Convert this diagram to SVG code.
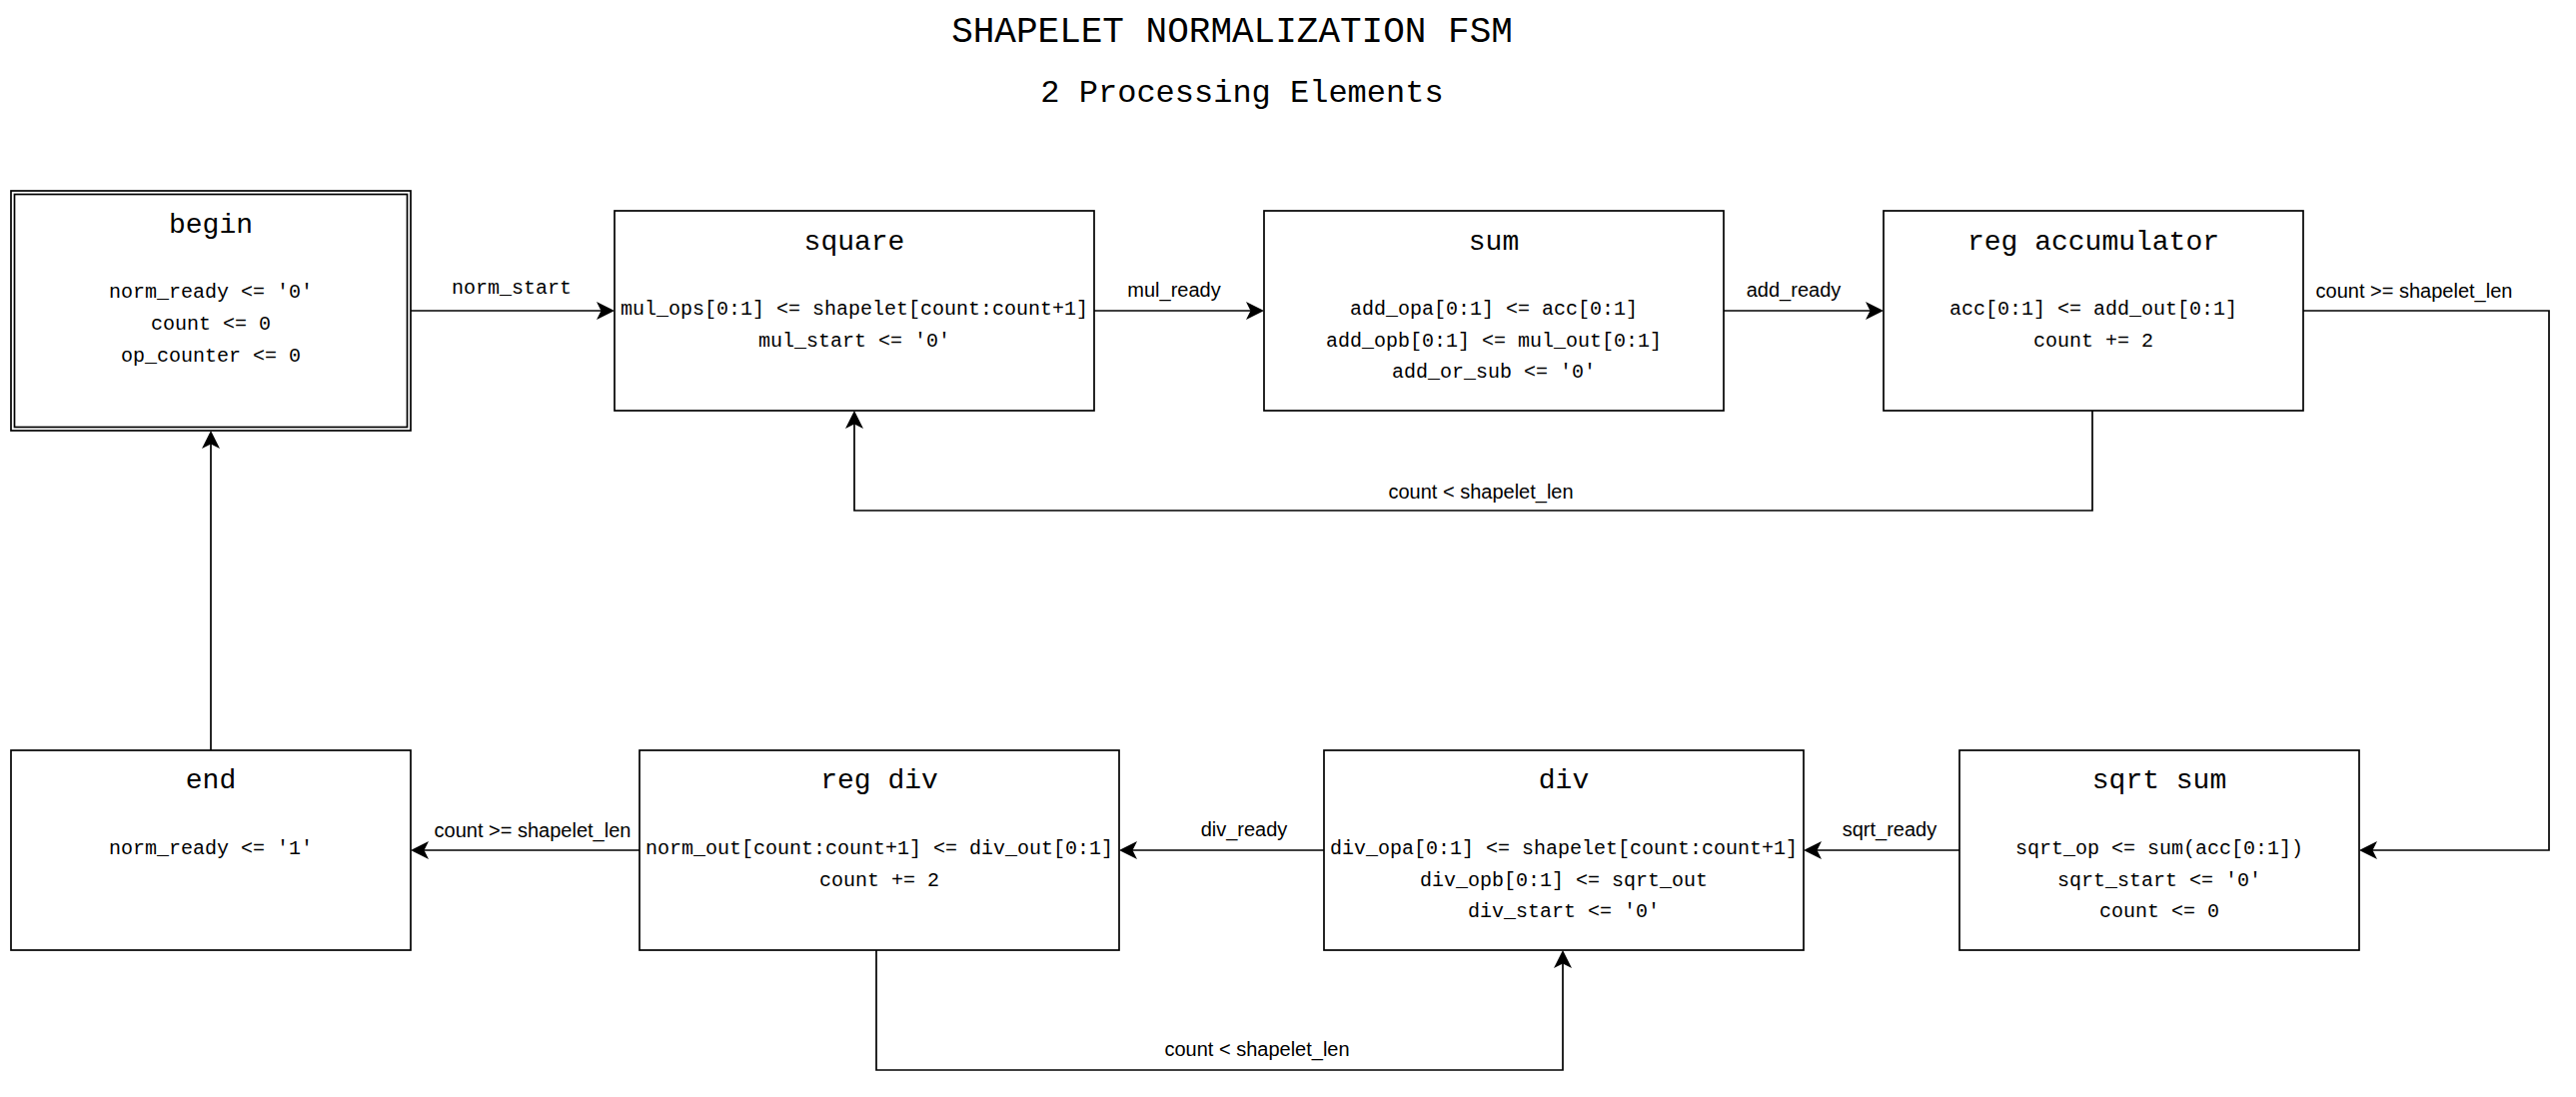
<svg xmlns="http://www.w3.org/2000/svg" width="2578" height="1098" viewBox="0 0 2578 1098">
<defs>
<style>
.box{fill:#fff;stroke:#000;stroke-width:1.7}
.edge{fill:none;stroke:#000;stroke-width:1.7}
.ttl{font-family:"Liberation Mono","DejaVu Sans Mono",monospace;font-size:28px;text-anchor:middle;fill:#000}
.bd{font-family:"Liberation Mono","DejaVu Sans Mono",monospace;font-size:20px;text-anchor:middle;fill:#000}
.lbl{font-family:"Liberation Sans",Arial,sans-serif;font-size:20px;text-anchor:middle;fill:#000}
.head{font-family:"Liberation Mono","DejaVu Sans Mono",monospace;text-anchor:middle;fill:#000}
</style>
<marker id="arr" viewBox="0 0 20 20" markerWidth="20" markerHeight="20" refX="16" refY="10" orient="auto" markerUnits="userSpaceOnUse">
<path d="M2,1 L20,10 L2,19 L6.5,10 Z" fill="#000"/>
</marker>
</defs>
<rect width="2578" height="1098" fill="#fff"/>
<g id="title">
<text class="head" x="1233" y="42" font-size="36">SHAPELET NORMALIZATION FSM</text>
<text class="head" x="1243" y="102" font-size="32">2 Processing Elements</text>
</g>
<g id="connectors">
<line class="edge" x1="411" y1="311" x2="611" y2="311" marker-end="url(#arr)"/>
<text class="bd" x="512" y="294">norm_start</text>
<line class="edge" x1="1095" y1="311" x2="1261" y2="311" marker-end="url(#arr)"/>
<text class="lbl" x="1175" y="297">mul_ready</text>
<line class="edge" x1="1725" y1="311" x2="1881" y2="311" marker-end="url(#arr)"/>
<text class="lbl" x="1795" y="297">add_ready</text>
<polyline class="edge" points="2305,311 2551,311 2551,851 2365,851" marker-end="url(#arr)"/>
<text class="lbl" x="2416" y="298">count &gt;= shapelet_len</text>
<polyline class="edge" points="2094,411 2094,511 855,511 855,415" marker-end="url(#arr)"/>
<text class="lbl" x="1482" y="499">count &lt; shapelet_len</text>
<line class="edge" x1="1961" y1="851" x2="1809" y2="851" marker-end="url(#arr)"/>
<text class="lbl" x="1891" y="837">sqrt_ready</text>
<line class="edge" x1="1325" y1="851" x2="1124" y2="851" marker-end="url(#arr)"/>
<text class="lbl" x="1245" y="837">div_ready</text>
<line class="edge" x1="640" y1="851" x2="415" y2="851" marker-end="url(#arr)"/>
<text class="lbl" x="533" y="838">count &gt;= shapelet_len</text>
<polyline class="edge" points="877,951 877,1071 1564,1071 1564,955" marker-end="url(#arr)"/>
<text class="lbl" x="1258" y="1057">count &lt; shapelet_len</text>
<line class="edge" x1="211" y1="751" x2="211" y2="435" marker-end="url(#arr)"/>
</g>
<g id="begin">
<rect class="box" x="11" y="191" width="400" height="240"/>
<rect class="box" x="14.5" y="194.5" width="393" height="233"/>
<text class="ttl" x="211" y="233">begin</text>
<text class="bd" x="211" y="298">norm_ready &lt;= '0'</text>
<text class="bd" x="211" y="330">count &lt;= 0</text>
<text class="bd" x="211" y="362">op_counter &lt;= 0</text>
</g>
<g id="square">
<rect class="box" x="615" y="211" width="480" height="200"/>
<text class="ttl" x="855" y="250">square</text>
<text class="bd" x="855" y="315">mul_ops[0:1] &lt;= shapelet[count:count+1]</text>
<text class="bd" x="855" y="347">mul_start &lt;= '0'</text>
</g>
<g id="sum">
<rect class="box" x="1265" y="211" width="460" height="200"/>
<text class="ttl" x="1495" y="250">sum</text>
<text class="bd" x="1495" y="315">add_opa[0:1] &lt;= acc[0:1]</text>
<text class="bd" x="1495" y="347">add_opb[0:1] &lt;= mul_out[0:1]</text>
<text class="bd" x="1495" y="378">add_or_sub &lt;= '0'</text>
</g>
<g id="reg_accumulator">
<rect class="box" x="1885" y="211" width="420" height="200"/>
<text class="ttl" x="2095" y="250">reg accumulator</text>
<text class="bd" x="2095" y="315">acc[0:1] &lt;= add_out[0:1]</text>
<text class="bd" x="2095" y="347">count += 2</text>
</g>
<g id="end">
<rect class="box" x="11" y="751" width="400" height="200"/>
<text class="ttl" x="211" y="789">end</text>
<text class="bd" x="211" y="855">norm_ready &lt;= '1'</text>
</g>
<g id="reg_div">
<rect class="box" x="640" y="751" width="480" height="200"/>
<text class="ttl" x="880" y="789">reg div</text>
<text class="bd" x="880" y="855">norm_out[count:count+1] &lt;= div_out[0:1]</text>
<text class="bd" x="880" y="887">count += 2</text>
</g>
<g id="div">
<rect class="box" x="1325" y="751" width="480" height="200"/>
<text class="ttl" x="1565" y="789">div</text>
<text class="bd" x="1565" y="855">div_opa[0:1] &lt;= shapelet[count:count+1]</text>
<text class="bd" x="1565" y="887">div_opb[0:1] &lt;= sqrt_out</text>
<text class="bd" x="1565" y="918">div_start &lt;= '0'</text>
</g>
<g id="sqrt_sum">
<rect class="box" x="1961" y="751" width="400" height="200"/>
<text class="ttl" x="2161" y="789">sqrt sum</text>
<text class="bd" x="2161" y="855">sqrt_op &lt;= sum(acc[0:1])</text>
<text class="bd" x="2161" y="887">sqrt_start &lt;= '0'</text>
<text class="bd" x="2161" y="918">count &lt;= 0</text>
</g>
</svg>
